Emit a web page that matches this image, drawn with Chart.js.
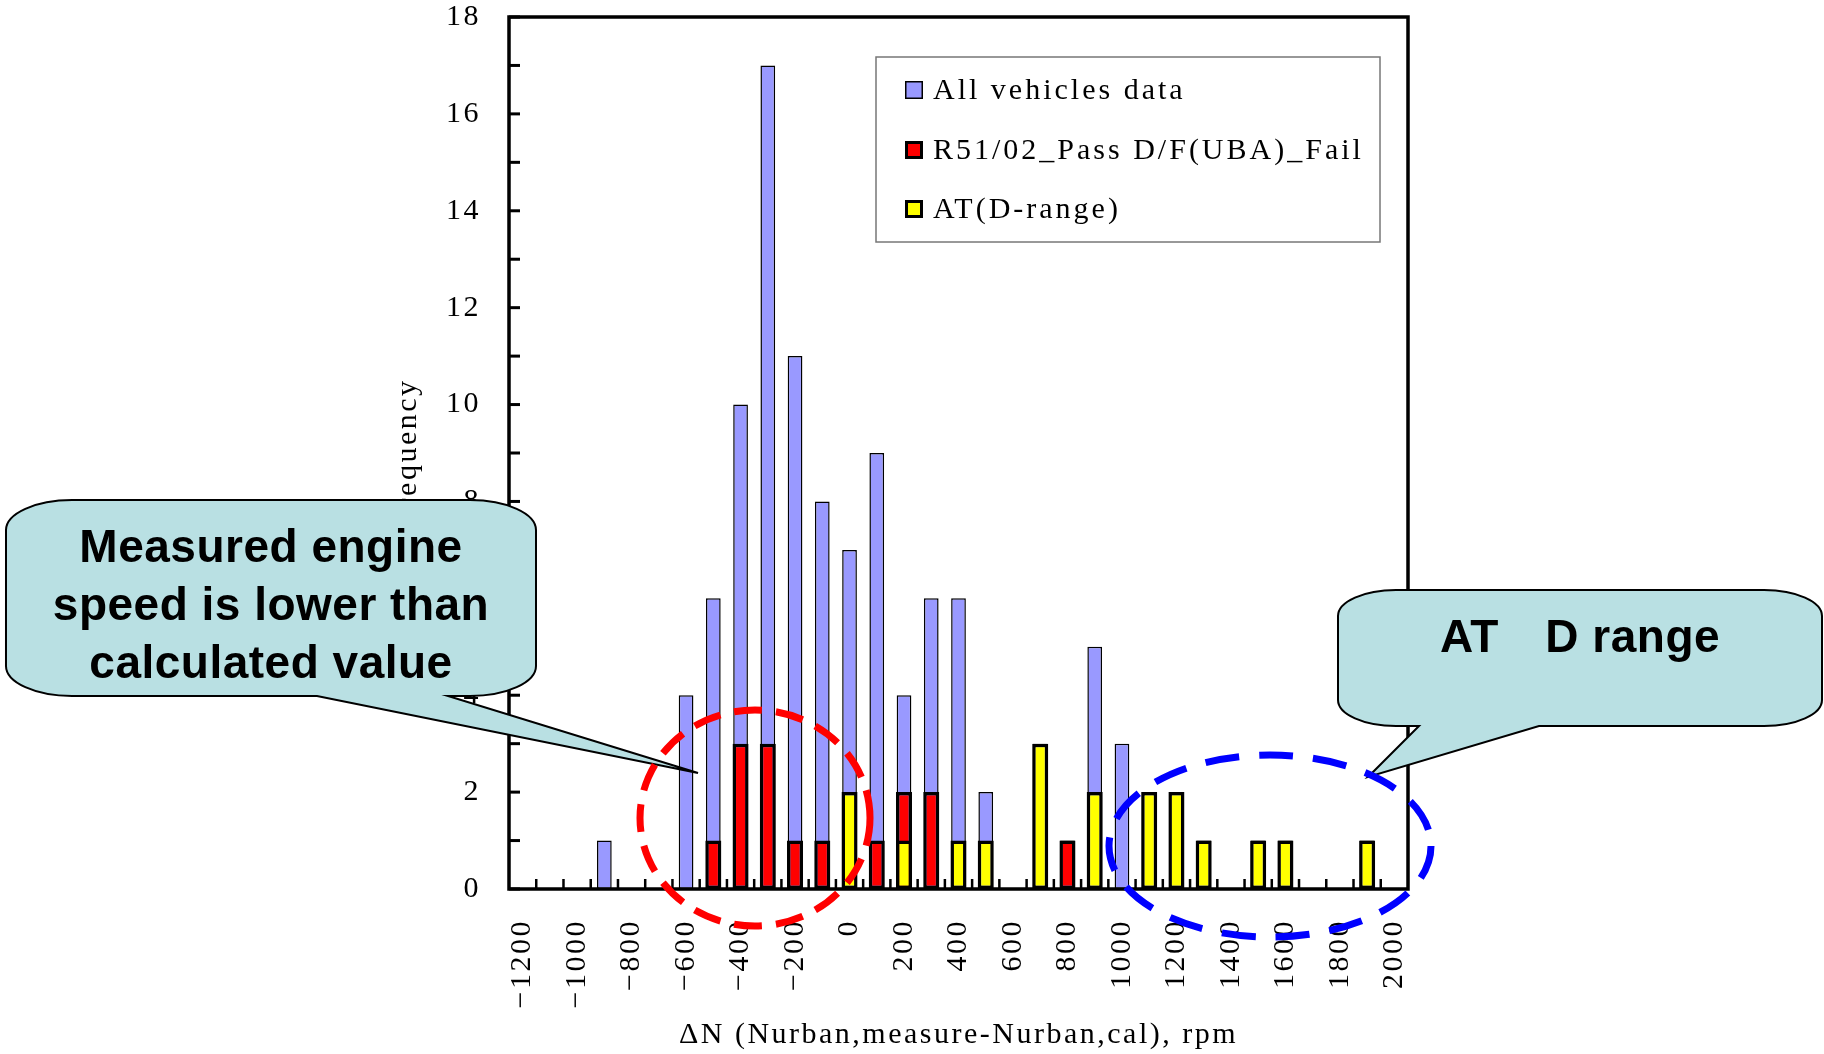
<!DOCTYPE html>
<html>
<head>
<meta charset="utf-8">
<script src="https://cdn.jsdelivr.net/npm/chart.js@4.4.0/dist/chart.umd.min.js"></script>
<style>
  html, body { margin: 0; padding: 0; background: #fff; }
  canvas { display: block; }
</style>
</head>
<body>
<canvas id="chart" width="1824" height="1054"></canvas>
<script>
// engine speed deviation bins, rpm
const categories = [-1200, -1100, -1000, -900, -800, -700, -600, -500, -400, -300, -200, -100,
  0, 100, 200, 300, 400, 500, 600, 700, 800, 900, 1000, 1100, 1200, 1300, 1400, 1500, 1600,
  1700, 1800, 1900, 2000];

const allVehicles = [0, 0, 0, 1, 0, 0, 4, 6, 10, 17, 11, 8,
  7, 9, 4, 6, 6, 2, 0, 3, 1, 5, 3, 2, 2, 1, 0, 1, 1,
  0, 0, 1, 0];
const r51Fail = [0, 0, 0, 0, 0, 0, 0, 1, 3, 3, 1, 1,
  0, 1, 2, 2, 0, 0, 0, 0, 1, 0, 0, 0, 0, 0, 0, 0, 0,
  0, 0, 0, 0];
const atDrange = [0, 0, 0, 0, 0, 0, 0, 0, 0, 0, 0, 0,
  2, 0, 1, 0, 1, 1, 0, 3, 0, 2, 0, 2, 2, 1, 0, 1, 1,
  0, 0, 1, 0];

const seriesNames = ['All vehicles data', 'R51/02_Pass D/F(UBA)_Fail', 'AT(D-range)'];
const yTitle = 'Frequency';
const xTitle = 'ΔN (Nurban,measure-Nurban,cal), rpm';

const SERIF = "'Liberation Serif', 'DejaVu Serif', serif";
const SANS = "'Liberation Sans', Arial, sans-serif";
const CALLOUT_FILL = '#b9e0e3';

function fmtTick(v) {
  return v < 0 ? '\u2212' + Math.abs(v) : String(v);
}

function calloutPath(c, x0, y0, x1, y1, rx, ry, baseL, baseR, tipX, tipY) {
  c.beginPath();
  c.moveTo(x0 + rx, y0);
  c.lineTo(x1 - rx, y0);
  c.ellipse(x1 - rx, y0 + ry, rx, ry, 0, -Math.PI / 2, 0);
  c.lineTo(x1, y1 - ry);
  c.ellipse(x1 - rx, y1 - ry, rx, ry, 0, 0, Math.PI / 2);
  c.lineTo(baseR, y1);
  c.lineTo(tipX, tipY);
  c.lineTo(baseL, y1);
  c.lineTo(x0 + rx, y1);
  c.ellipse(x0 + rx, y1 - ry, rx, ry, 0, Math.PI / 2, Math.PI);
  c.lineTo(x0, y0 + ry);
  c.ellipse(x0 + rx, y0 + ry, rx, ry, 0, Math.PI, Math.PI * 1.5);
  c.closePath();
}

function dashedEllipse(c, cx, cy, rx, ry, color, dash) {
  c.save();
  c.strokeStyle = color;
  c.lineWidth = 7;
  c.setLineDash(dash);
  c.beginPath();
  c.ellipse(cx, cy, rx, ry, 0, 0, Math.PI * 2);
  c.stroke();
  c.restore();
}

const decor = {
  id: 'decor',
  beforeDraw(chart) {
    chart.ctx.letterSpacing = '2.5px';
  },
  afterDatasetsDraw(chart) {
    const c = chart.ctx;
    const a = chart.chartArea;
    const xs = chart.scales.x, ys = chart.scales.y;
    c.save();
    c.strokeStyle = '#000';
    // inward minor ticks on the value axis
    c.lineWidth = 3;
    for (let v = 0; v <= 18; v++) {
      const y = ys.getPixelForValue(v);
      c.beginPath(); c.moveTo(a.left, y); c.lineTo(a.left + 11, y); c.stroke();
    }
    // tick marks between bins
    c.lineWidth = 2.5;
    for (let i = 1; i < categories.length; i++) {
      const x = (xs.getPixelForValue(i - 1) + xs.getPixelForValue(i)) / 2;
      c.beginPath(); c.moveTo(x, a.bottom); c.lineTo(x, a.bottom - 10); c.stroke();
    }
    // plot frame
    c.lineWidth = 3.5;
    c.strokeRect(a.left, a.top, a.right - a.left, a.bottom - a.top);
    c.restore();
  },
  afterDraw(chart) {
    const c = chart.ctx;
    const a = chart.chartArea;
    const ds = chart.data.datasets;
    c.save();
    c.letterSpacing = '2.5px';
    c.fillStyle = '#000';
    c.font = '30px ' + SERIF;
    c.textAlign = 'center';
    c.textBaseline = 'middle';

    // axis titles
    c.fillText(xTitle, (a.left + a.right) / 2, 1035);
    c.save();
    c.translate(408, (a.top + a.bottom) / 2);
    c.rotate(-Math.PI / 2);
    c.fillText(yTitle, 0, 0);
    c.restore();

    // legend box
    c.fillStyle = '#fff';
    c.fillRect(876, 57, 504, 185);
    c.strokeStyle = '#777';
    c.lineWidth = 1.5;
    c.strokeRect(876, 57, 504, 185);
    const rows = [90, 150, 209];
    c.textAlign = 'left';
    c.letterSpacing = '3px';
    ds.forEach((d, i) => {
      const y = rows[i];
      const bw = i === 0 ? 1.5 : 3;
      c.fillStyle = d.backgroundColor;
      c.fillRect(905, y - 9, 18, 18);
      c.strokeStyle = '#000';
      c.lineWidth = bw;
      c.strokeRect(905 + bw / 2, y - 9 + bw / 2, 18 - bw, 18 - bw);
      c.fillStyle = '#000';
      c.fillText(d.label, 933, y + 1);
    });

    // callouts
    c.letterSpacing = '0.5px';
    c.lineWidth = 2;
    c.strokeStyle = '#000';
    calloutPath(c, 6, 500, 536, 696, 66, 30, 317, 448, 698, 773);
    c.fillStyle = CALLOUT_FILL; c.fill(); c.stroke();
    calloutPath(c, 1338, 590, 1822, 726, 58, 26, 1419, 1539, 1368, 777);
    c.fillStyle = CALLOUT_FILL; c.fill(); c.stroke();

    c.fillStyle = '#000';
    c.font = 'bold 46px ' + SANS;
    c.textAlign = 'center';
    c.textBaseline = 'alphabetic';
    ['Measured engine', 'speed is lower than', 'calculated value'].forEach((t, i) => {
      c.fillText(t, 271, 562 + i * 58);
    });
    c.fillText('AT\u3000D range', 1580, 652);

    // highlighted regions
    dashedEllipse(c, 755, 818, 115, 108, '#ff0000', [28, 14]);
    dashedEllipse(c, 1270, 846, 161, 91, '#0000ff', [34, 20]);
    c.restore();
  }
};

const barCommon = {
  borderColor: '#000',
  borderSkipped: false,
  categoryPercentage: 1,
  grouped: false
};

new Chart(document.getElementById('chart'), {
  type: 'bar',
  data: {
    labels: categories,
    datasets: [
      Object.assign({ label: seriesNames[0], data: allVehicles, backgroundColor: '#9999ff',
        borderWidth: 1.5, barPercentage: 0.54, order: 3 }, barCommon),
      Object.assign({ label: seriesNames[1], data: r51Fail, backgroundColor: '#ff0000',
        borderWidth: 3.5, barPercentage: 0.59, order: 2 }, barCommon),
      Object.assign({ label: seriesNames[2], data: atDrange, backgroundColor: '#ffff00',
        borderWidth: 3.5, barPercentage: 0.59, order: 1 }, barCommon)
    ]
  },
  options: {
    responsive: false,
    animation: false,
    layout: { padding: { left: 0, right: 416, top: 17, bottom: 0 } },
    plugins: {
      legend: { display: false },
      tooltip: { enabled: false }
    },
    scales: {
      x: {
        grid: { display: false, drawTicks: false },
        border: { display: false },
        afterFit(scale) {
          scale.height = 165;
          scale.paddingLeft = 0;
          scale.paddingRight = 0;
        },
        ticks: {
          autoSkip: false,
          minRotation: 90,
          maxRotation: 90,
          padding: 30,
          color: '#000',
          font: { family: SERIF, size: 30 },
          callback(value, index) {
            const v = categories[index];
            return v % 200 === 0 ? fmtTick(v) : '';
          }
        }
      },
      y: {
        min: 0,
        max: 18,
        grid: { display: false, drawTicks: false },
        border: { display: false },
        afterFit(scale) {
          scale.width = 509;
          scale.paddingTop = 0;
          scale.paddingBottom = 0;
        },
        ticks: {
          stepSize: 2,
          padding: 28,
          color: '#000',
          font: { family: SERIF, size: 30 }
        }
      }
    }
  },
  plugins: [decor]
});
</script>
</body>
</html>
